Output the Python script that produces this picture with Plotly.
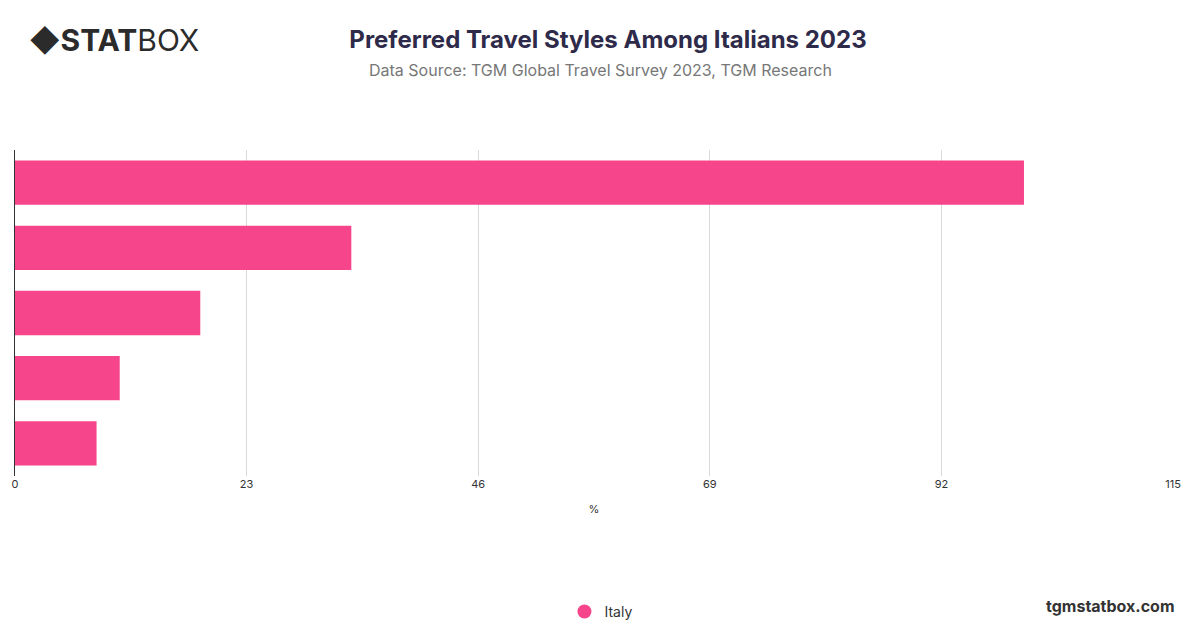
import plotly.graph_objects as go

categories = ["Style 1", "Style 2", "Style 3", "Style 4", "Style 5"]
values = [100.2, 33.4, 18.4, 10.4, 8.1]
series_name = "Italy"
tick_vals = [0, 23, 46, 69, 92, 115]

fig = go.Figure()
fig.add_trace(go.Bar(y=categories, x=values, orientation="h", showlegend=False,
                     marker=dict(color="#f6458a", line=dict(width=0)), width=0.68))
fig.add_trace(go.Scatter(x=[None], y=[None], mode="markers", name=series_name,
                         marker=dict(symbol="circle", size=14, color="#f6458a")))
fig.update_layout(
    width=1200, height=628, paper_bgcolor="white", plot_bgcolor="white",
    margin=dict(l=7, r=35, t=142, b=160, autoexpand=False),
    font=dict(family="Inter, Roboto, sans-serif", color="#333"),
    title=dict(text="<b>Preferred Travel Styles Among Italians 2023</b>", x=0.5, y=0.949,
               xanchor="center", yanchor="middle", font=dict(size=24, color="#2e2a4a")),
    xaxis=dict(range=[0, 115], tickvals=tick_vals, showgrid=True, gridcolor="#d9d9d9",
               zeroline=False, ticks="", tickfont=dict(size=11, color="#333"),
               title=dict(text="%", font=dict(size=11)), fixedrange=True),
    yaxis=dict(autorange="reversed", showticklabels=False, showgrid=False, zeroline=False,
               showline=True, linecolor="#333", linewidth=1),
    bargap=0.32,
    legend=dict(orientation="h", x=0.506, xanchor="center", y=-0.368, yanchor="top",
                font=dict(size=14, color="#333")),
    annotations=[
        dict(text="Data Source: TGM Global Travel Survey 2023, TGM Research", x=0.506, y=1.245,
             xref="paper", yref="paper", xanchor="center", yanchor="middle", showarrow=False,
             font=dict(size=16, color="#777")),
        dict(text="◆<b>STAT</b>BOX", x=0.01, y=1.337, xref="paper", yref="paper",
             xanchor="left", yanchor="middle", showarrow=False,
             font=dict(size=30, color="#2b2b2b")),
        dict(text="<b>tgmstatbox.com</b>", x=1.0035, y=-0.399, xref="paper", yref="paper",
             xanchor="right", yanchor="middle", showarrow=False,
             font=dict(size=16, color="#333")),
    ],
)
fig.write_html("out.html")
